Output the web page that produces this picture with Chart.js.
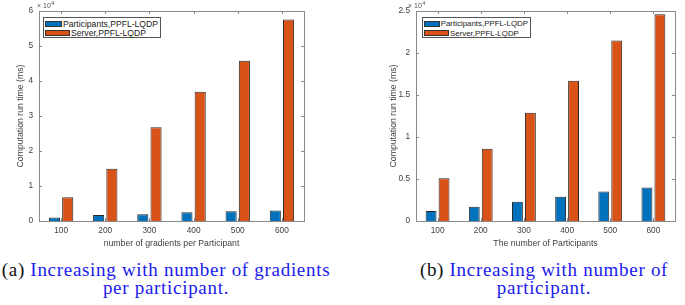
<!DOCTYPE html>
<html>
<head>
<meta charset="utf-8">
<script src="https://cdn.jsdelivr.net/npm/chart.js@4.4.1/dist/chart.umd.min.js"></script>
<style>
  html, body { margin: 0; padding: 0; background: #fff; }
  body { width: 685px; height: 305px; position: relative; overflow: hidden; }
  canvas { position: absolute; top: 0; }
  #chartA { left: 0; }
  #chartB { left: 345px; }
  .legend {
    position: absolute; background: #fff; border: 1px solid #555;
    font-family: "Liberation Sans", Arial, sans-serif; color: #222;
    padding: 1px 2px 1px 1px; box-sizing: border-box;
  }
  .legend .row { display: flex; align-items: center; height: 9.5px; white-space: nowrap; }
  .legend .sw { width: 25px; height: 6px; border: 1px solid #333; margin-right: 1px; box-sizing: border-box; }
  .caption {
    position: absolute; font-family: "Liberation Serif", "Times New Roman", serif;
    color: #1a1aee; text-align: center; line-height: 18px; white-space: nowrap;
    font-size: 19px; letter-spacing: 0.7px;
  }
  .caption .tag { color: #111; }
</style>
</head>
<body>
<canvas id="chartA" width="340" height="250"></canvas>
<canvas id="chartB" width="340" height="250"></canvas>
<div id="legendA" class="legend" style="left:43px; top:17px; width:118px; height:21px; font-size:8.6px;"></div>
<div id="legendB" class="legend" style="left:422px; top:17px; width:109px; height:21px; font-size:7.9px;"></div>
<div class="caption" style="left:0; top:261px; width:332px;">
  <span class="tag">(a)</span> Increasing with number of gradients<br>per participant.
</div>
<div class="caption" style="left:404px; top:261px; width:280px;">
  <span class="tag">(b)</span> Increasing with number of<br>participant.
</div>
<script>
// x axis categories
const gradientCounts = ['100', '200', '300', '400', '500', '600'];
const participantCounts = ['100', '200', '300', '400', '500', '600'];

// run time in ms, (a) vs gradients per participant
const participantsA = [1000, 1700, 1900, 2500, 2800, 3000];
const serverA = [6800, 14900, 26800, 36900, 45800, 57600];

// run time in ms, (b) vs number of participants
const participantsB = [1200, 1700, 2300, 2900, 3500, 4000];
const serverB = [5100, 8600, 12900, 16700, 21500, 24600];

// y ticks (ms) — shown as multiples of 10^4
const ticksA = [0, 10000, 20000, 30000, 40000, 50000, 60000];
const ticksB = [0, 5000, 10000, 15000, 20000, 25000];

const seriesNames = ['Participants,PPFL-LQDP', 'Server,PPFL-LQDP'];
const blue = '#0072BD';
const orange = '#D95319';
const axisGray = '#404040';
const fontFamily = '"Liberation Sans", Arial, sans-serif';

// box around axes + inward ticks on all sides, plus the x10^4 exponent
const matlabBox = {
    id: 'matlabBox',
    afterDraw(chart, args, opts) {
        const { ctx, chartArea: a, scales } = chart;
        ctx.save();
        ctx.strokeStyle = '#8a8a8a';
        ctx.lineWidth = 1;
        ctx.beginPath();
        scales.y.ticks.forEach(t => {
            const y = Math.round(scales.y.getPixelForValue(t.value)) + 0.5;
            ctx.moveTo(a.left, y); ctx.lineTo(a.left + 3, y);
            ctx.moveTo(a.right, y); ctx.lineTo(a.right - 3, y);
        });
        scales.x.ticks.forEach((t, i) => {
            const x = Math.round(scales.x.getPixelForTick(i)) + 0.5;
            ctx.moveTo(x, a.bottom); ctx.lineTo(x, a.bottom - 3);
            ctx.moveTo(x, a.top); ctx.lineTo(x, a.top + 3);
        });
        ctx.stroke();
        ctx.strokeRect(Math.round(a.left) + 0.5, Math.round(a.top) + 0.5,
            Math.round(a.right - a.left), Math.round(a.bottom - a.top));

        // exponent label
        ctx.fillStyle = '#555';
        ctx.textBaseline = 'alphabetic';
        ctx.font = '7px ' + fontFamily;
        const ex = a.left + opts.dx;
        ctx.fillText('\u00d7 10', ex, a.top - 3);
        const w = ctx.measureText('\u00d7 10').width;
        ctx.font = '5.5px ' + fontFamily;
        ctx.fillText('4', ex + w + 0.5, a.top - 6.5);
        ctx.restore();
    }
};

function renderBarChart(id, labels, partVals, servVals, yTicks, cfg) {
    const ctx = document.getElementById(id).getContext('2d');
    const chart = new Chart(ctx, {
        type: 'bar',
        data: {
            labels: labels,
            datasets: [
                { label: seriesNames[0], data: partVals, backgroundColor: blue },
                { label: seriesNames[1], data: servVals, backgroundColor: orange }
            ]
        },
        options: {
            responsive: false,
            animation: false,
            datasets: {
                bar: {
                    borderColor: '#2a2a2a',
                    borderWidth: 1,
                    borderSkipped: 'bottom',
                    categoryPercentage: 0.6,
                    barPercentage: 0.84
                }
            },
            layout: { padding: { left: cfg.padLeft, right: cfg.padRight, top: 11, bottom: 1 } },
            plugins: {
                legend: { display: false },
                tooltip: { enabled: false },
                matlabBox: { dx: cfg.expDx }
            },
            scales: {
                x: {
                    grid: { display: false, drawTicks: false },
                    border: { display: false },
                    ticks: { color: axisGray, padding: 5, font: { family: fontFamily, size: 8.3 } },
                    title: {
                        display: true, text: cfg.xTitle, color: axisGray, padding: 0,
                        font: { family: fontFamily, size: 8.7 }
                    },
                    afterFit: s => { s.height = 28; }
                },
                y: {
                    min: 0,
                    max: yTicks[yTicks.length - 1],
                    afterBuildTicks: s => { s.ticks = yTicks.map(v => ({ value: v })); },
                    grid: { display: false, drawTicks: false },
                    border: { display: false },
                    ticks: {
                        color: axisGray, padding: 6,
                        font: { family: fontFamily, size: 8.3 },
                        callback: v => String(v / 10000)
                    },
                    title: {
                        display: true, text: 'Computation run time (ms)', color: axisGray, padding: 0,
                        font: { family: fontFamily, size: 8.7 }
                    },
                    afterFit: s => { s.width = cfg.yWidth; }
                }
            }
        },
        plugins: [matlabBox]
    });
    return chart;
}

function renderLegend(divId, chart) {
    const box = document.getElementById(divId);
    chart.data.datasets.forEach(ds => {
        const row = document.createElement('div');
        row.className = 'row';
        const sw = document.createElement('span');
        sw.className = 'sw';
        sw.style.background = ds.backgroundColor;
        const txt = document.createElement('span');
        txt.textContent = ds.label;
        row.appendChild(sw);
        row.appendChild(txt);
        box.appendChild(row);
    });
}

const chartA = renderBarChart('chartA', gradientCounts, participantsA, serverA, ticksA, {
    padLeft: 15, padRight: 36, yWidth: 24, expDx: -2,
    xTitle: 'number of gradients per Participant'
});
const chartB = renderBarChart('chartB', participantCounts, participantsB, serverB, ticksB, {
    padLeft: 43, padRight: 10, yWidth: 28, expDx: -8,
    xTitle: 'The number of Participants'
});
renderLegend('legendA', chartA);
renderLegend('legendB', chartB);
</script>
</body>
</html>
